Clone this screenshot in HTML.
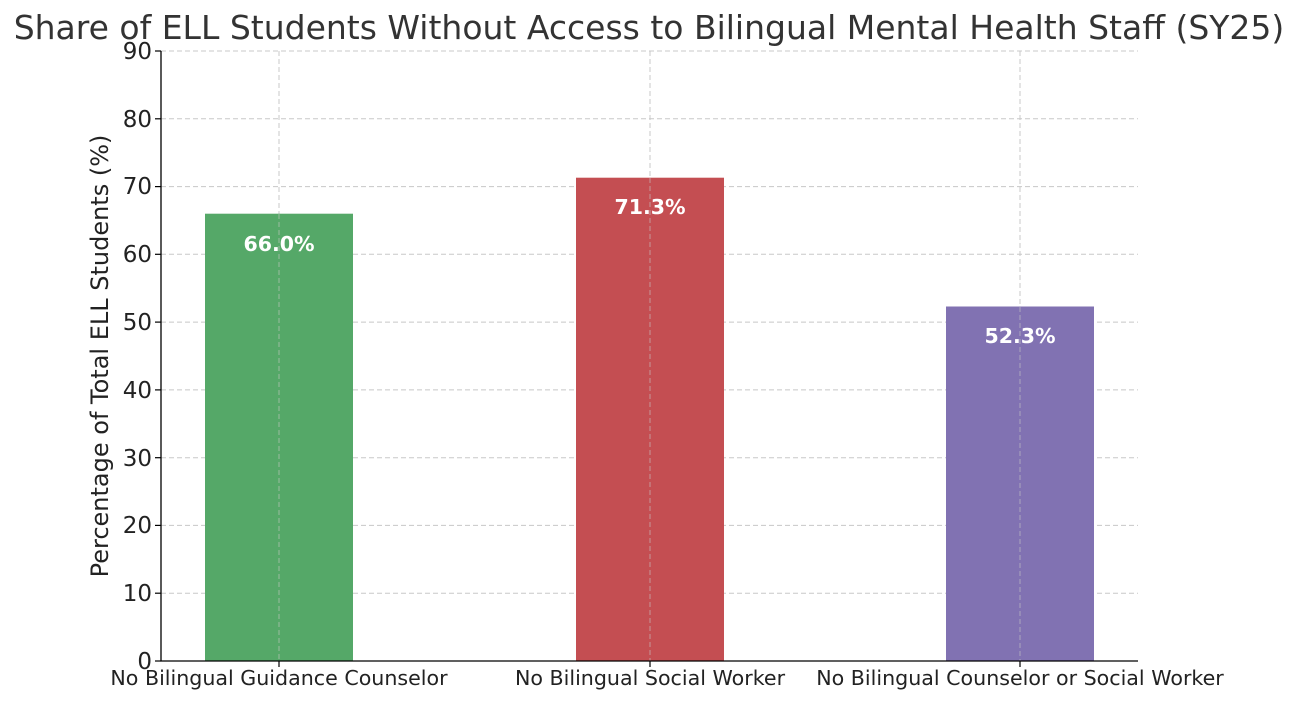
<!DOCTYPE html>
<html><head><meta charset="utf-8"><style>
html,body{margin:0;padding:0;background:#fff;}
svg{display:block;font-family:"DejaVu Sans","Liberation Sans",sans-serif;}
</style></head><body>
<svg width="1299" height="703" viewBox="0 0 1299 703" xmlns="http://www.w3.org/2000/svg">
<rect width="1299" height="703" fill="#fff"/>
<text x="649" y="39" font-size="33" fill="#333" text-anchor="middle">Share of ELL Students Without Access to Bilingual Mental Health Staff (SY25)</text>
<g stroke="#c8c8c8" stroke-width="1" stroke-dasharray="5,3">
<line x1="161" x2="1138" y1="51" y2="51"/>
<line x1="161" x2="1138" y1="118.8" y2="118.8"/>
<line x1="161" x2="1138" y1="186.6" y2="186.6"/>
<line x1="161" x2="1138" y1="254.3" y2="254.3"/>
<line x1="161" x2="1138" y1="322.1" y2="322.1"/>
<line x1="161" x2="1138" y1="389.9" y2="389.9"/>
<line x1="161" x2="1138" y1="457.7" y2="457.7"/>
<line x1="161" x2="1138" y1="525.4" y2="525.4"/>
<line x1="161" x2="1138" y1="593.2" y2="593.2"/>
<line x1="279" x2="279" y1="51" y2="661"/>
<line x1="650" x2="650" y1="51" y2="661"/>
<line x1="1020" x2="1020" y1="51" y2="661"/>
</g>
<rect x="205" y="213.7" width="148" height="447.3" fill="#55a868"/>
<rect x="576" y="177.7" width="148" height="483.3" fill="#c44e52"/>
<rect x="946" y="306.5" width="148" height="354.5" fill="#8172b2"/>
<g stroke="#c8c8c8" stroke-width="1" stroke-dasharray="5,3" opacity="0.6">
<line x1="279" x2="279" y1="214" y2="661"/>
<line x1="650" x2="650" y1="178" y2="661"/>
<line x1="1020" x2="1020" y1="307" y2="661"/>
</g>
<g fill="#fff" font-size="20.5" font-weight="bold" text-anchor="middle">
<text x="279" y="251">66.0%</text>
<text x="650" y="214">71.3%</text>
<text x="1020" y="343">52.3%</text>
</g>
<line x1="161" x2="161" y1="51" y2="661.5" stroke="#000" stroke-width="1.3"/>
<line x1="160.5" x2="1138" y1="661" y2="661" stroke="#000" stroke-width="1.3"/>
<g stroke="#000" stroke-width="1.2">
<line x1="155" x2="161" y1="51" y2="51"/><line x1="155" x2="161" y1="118.8" y2="118.8"/>
<line x1="155" x2="161" y1="186.6" y2="186.6"/><line x1="155" x2="161" y1="254.3" y2="254.3"/>
<line x1="155" x2="161" y1="322.1" y2="322.1"/><line x1="155" x2="161" y1="389.9" y2="389.9"/>
<line x1="155" x2="161" y1="457.7" y2="457.7"/><line x1="155" x2="161" y1="525.4" y2="525.4"/>
<line x1="155" x2="161" y1="593.2" y2="593.2"/><line x1="155" x2="161" y1="661" y2="661"/>
<line x1="279" x2="279" y1="661" y2="667"/><line x1="650" x2="650" y1="661" y2="667"/><line x1="1020" x2="1020" y1="661" y2="667"/>
</g>
<g font-size="23" fill="#222" text-anchor="end">
<text x="152" y="59">90</text><text x="152" y="127">80</text><text x="152" y="194">70</text>
<text x="152" y="262">60</text><text x="152" y="330">50</text><text x="152" y="398">40</text>
<text x="152" y="466">30</text><text x="152" y="533">20</text><text x="152" y="601">10</text>
<text x="152" y="669">0</text>
</g>
<g font-size="20.6" fill="#222" text-anchor="middle">
<text x="279" y="685">No Bilingual Guidance Counselor</text>
<text x="650" y="685">No Bilingual Social Worker</text>
<text x="1020" y="685">No Bilingual Counselor or Social Worker</text>
</g>
<text transform="translate(108,356) rotate(-90)" font-size="24" fill="#222" text-anchor="middle">Percentage of Total ELL Students (%)</text>
</svg>
</body></html>
